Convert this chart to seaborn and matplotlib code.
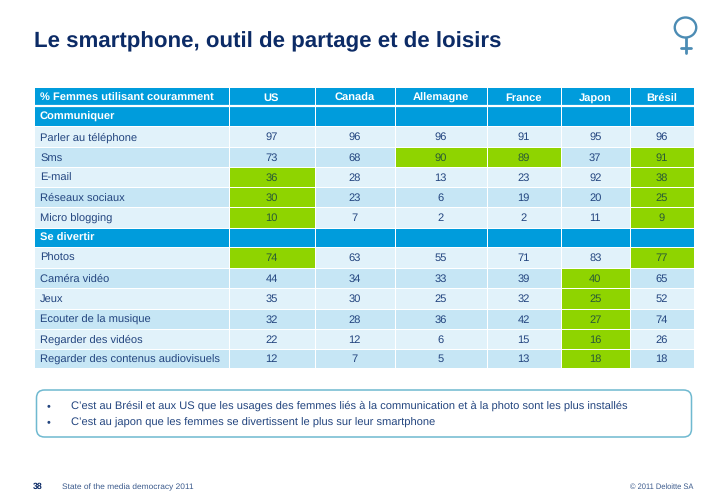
import numpy as np
import pandas as pd
import seaborn as sns
import matplotlib
matplotlib.use("Agg")
import matplotlib.pyplot as plt
from matplotlib.colors import ListedColormap
from matplotlib.patches import FancyBboxPatch, Ellipse
from matplotlib.lines import Line2D

# ---------- data ----------
title = "Le smartphone, outil de partage et de loisirs"
corner_label = "% Femmes utilisant couramment"
countries = ["US", "Canada", "Allemagne", "France", "Japon", "Brésil"]

sec_communiquer = "Communiquer"
rows_communiquer = ["Parler au téléphone", "Sms", "E-mail", "Réseaux sociaux", "Micro blogging"]
us_c = [97, 73, 36, 30, 10]
canada_c = [96, 68, 28, 23, 7]
allemagne_c = [96, 90, 13, 6, 2]
france_c = [91, 89, 23, 19, 2]
japon_c = [95, 37, 92, 20, 11]
bresil_c = [96, 91, 38, 25, 9]

sec_divertir = "Se divertir"
rows_divertir = ["Photos", "Caméra vidéo", "Jeux", "Ecouter de la musique",
                 "Regarder des vidéos", "Regarder des contenus audiovisuels"]
us_d = [74, 44, 35, 32, 22, 12]
canada_d = [63, 34, 30, 28, 12, 7]
allemagne_d = [55, 33, 25, 36, 6, 5]
france_d = [71, 39, 32, 42, 15, 13]
japon_d = [83, 40, 25, 27, 16, 18]
bresil_d = [77, 65, 52, 74, 26, 18]

# highlighted cells: row label -> highlighted countries
highlights = {
    "Sms": ["Allemagne", "France", "Brésil"],
    "E-mail": ["US", "Brésil"],
    "Réseaux sociaux": ["US", "Brésil"],
    "Micro blogging": ["US", "Brésil"],
    "Photos": ["US", "Brésil"],
    "Caméra vidéo": ["Japon"],
    "Jeux": ["Japon"],
    "Ecouter de la musique": ["Japon"],
    "Regarder des vidéos": ["Japon"],
    "Regarder des contenus audiovisuels": ["Japon"],
}
bullets = ["C’est au Brésil et aux US que les usages des femmes liés à la communication et à la photo sont les plus installés",
           "C’est au japon que les femmes se divertissent le plus sur leur smartphone"]
page_number = "38"
footer_left = "State of the media democracy 2011"
footer_right = "© 2011 Deloitte SA"

# ---------- table assembly ----------
values_c = pd.DataFrame(dict(zip(countries, [us_c, canada_c, allemagne_c, france_c, japon_c, bresil_c])), index=rows_communiquer)
values_d = pd.DataFrame(dict(zip(countries, [us_d, canada_d, allemagne_d, france_d, japon_d, bresil_d])), index=rows_divertir)

row_labels = [corner_label, sec_communiquer] + rows_communiquer + [sec_divertir] + rows_divertir
values = pd.concat([values_c, values_d]).reindex(row_labels)
section_rows = {corner_label, sec_communiquer, sec_divertir}

HEAD, LIGHT, DARK, GREEN = 0, 1, 2, 3
state = np.zeros((len(row_labels), len(countries) + 1))
k = 0
for i, lab in enumerate(row_labels):
    if lab in section_rows:
        k = 0
        continue
    state[i, :] = LIGHT if k % 2 == 0 else DARK
    k += 1
    for c in highlights.get(lab, []):
        state[i, countries.index(c) + 1] = GREEN
state_df = pd.DataFrame(state, index=row_labels, columns=["label"] + countries)

# ---------- style ----------
sns.set_theme(style="white")
plt.rcParams["font.family"] = ["Liberation Sans", "DejaVu Sans"]
plt.rcParams["text.hinting"] = "none"
plt.rcParams["text.hinting_factor"] = 8
NAVY = "#0C2B66"
TXT = "#23457F"
C_HEAD, C_LIGHT, C_DARK, C_GREEN = "#009CDC", "#E1F2FA", "#C6E6F5", "#8FD400"

W, H = 728, 504
x_edges = np.array([34, 228.5, 314.5, 394.5, 486.5, 561, 629.5, 694.0])
y_edges = np.array([87, 106, 126, 146.5, 166.5, 187, 207, 227.5, 247, 267.5, 287.5, 308.5, 328.5, 348.5, 368.0])

fig = plt.figure(figsize=(W / 100, H / 100), dpi=100, facecolor="white")
ax = fig.add_axes([x_edges[0] / W, 1 - y_edges[-1] / H,
                   (x_edges[-1] - x_edges[0]) / W, (y_edges[-1] - y_edges[0]) / H])
sns.heatmap(state_df, ax=ax, cmap=ListedColormap([C_HEAD, C_LIGHT, C_DARK, C_GREEN]),
            vmin=-0.5, vmax=3.5, cbar=False, linewidths=0.6, linecolor="white",
            xticklabels=False, yticklabels=False)

ix = np.arange(len(x_edges), dtype=float)
iy = np.arange(len(y_edges), dtype=float)
ax.set_xscale("function", functions=(lambda v: np.interp(v, ix, x_edges),
                                     lambda v: np.interp(v, x_edges, ix)))
ax.set_yscale("function", functions=(lambda v: np.interp(v, iy, y_edges),
                                     lambda v: np.interp(v, y_edges, iy)))
ax.set_xlim(0, len(x_edges) - 1)
ax.set_ylim(len(y_edges) - 1, 0)
ax.set_xticks([]); ax.set_yticks([])
ax.minorticks_off()
ax.set_xlabel(""); ax.set_ylabel("")
for s in ax.spines.values():
    s.set_visible(False)
ax.axhline(1, color="white", lw=1.6)

FS = 8.0
BASE_OFF = (0, -2.9)


def cell_text(x, y, s, ha, **kw):
    ax.annotate(s, (x, y), xytext=BASE_OFF, textcoords="offset points", ha=ha, va="baseline",
                fontsize=FS, **kw)


for i, lab in enumerate(row_labels):
    head = lab in section_rows
    cell_text(0.031, i + 0.5, lab, "left", color="white" if head else TXT,
              fontweight="bold" if head else "normal")
    for j, c in enumerate(countries):
        if i == 0:
            cell_text(j + 1.5, i + 0.5, c, "center", color="white", fontweight="bold")
        elif not head:
            cell_text(j + 1.5, i + 0.5, str(int(values.loc[lab, c])), "center",
                      color="#2A5A36" if state[i, j + 1] == GREEN else TXT)

# overlay in pixel coordinates for slide furniture
ov = fig.add_axes([0, 0, 1, 1], facecolor="none")
ov.set_xlim(0, W); ov.set_ylim(H, 0); ov.axis("off")

ov.text(33.5, 47, title, fontsize=16.03, fontweight="bold", color=NAVY, ha="left", va="baseline")

ov.add_patch(FancyBboxPatch((36.5, 390), 655, 47, boxstyle="round,pad=0,rounding_size=8",
                            fc="white", ec="#6FB9D0", lw=1.1))
for y, line in zip([409, 425.5], bullets):
    ov.text(48, y, "•", fontsize=7.8, color=TXT, ha="center", va="baseline")
    ov.text(71, y, line, fontsize=8.05, color=TXT, ha="left", va="baseline")

VEN = "#4C8CB4"
ov.add_patch(Ellipse((685.5, 27.5), 21.5, 20, fc="none", ec=VEN, lw=1.7))
ov.add_line(Line2D([685.5, 685.5], [38, 52.5], color=VEN, lw=2.0))
ov.add_line(Line2D([680.5, 690.5], [47.5, 47.5], color=VEN, lw=2.0))

ov.text(33, 489, page_number, fontsize=6.3, fontweight="bold", color=NAVY, ha="left", va="baseline")
ov.text(61.5, 489, footer_left, fontsize=6.0, color="#3B5A8C", ha="left", va="baseline")
ov.text(693, 489, footer_right, fontsize=5.45, color="#3B5A8C", ha="right", va="baseline")

fig.savefig("out.png", dpi=100, facecolor="white")
